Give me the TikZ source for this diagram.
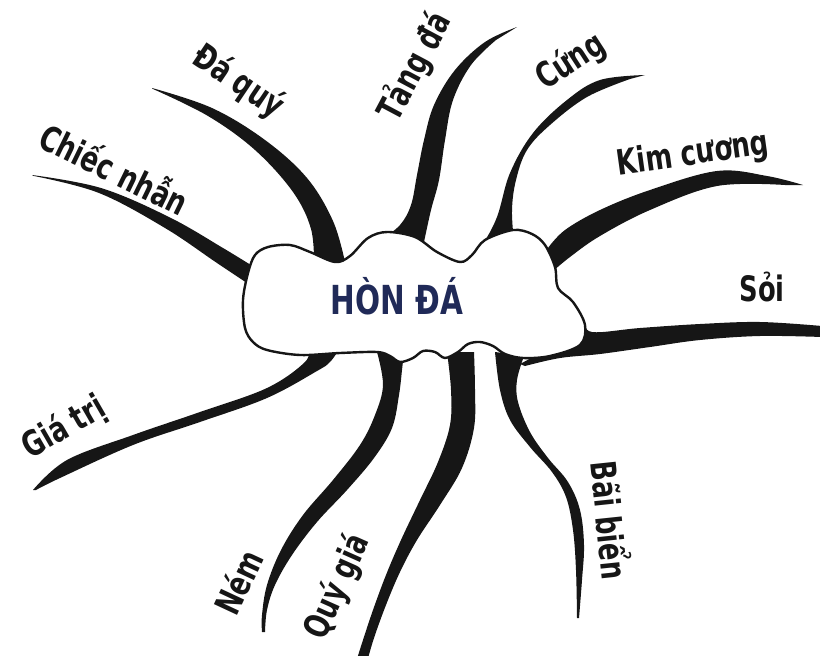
\documentclass[tikz,border=0pt]{standalone}
\usepackage{fontspec}
\setmainfont{DejaVu Sans Condensed}[FakeStretch=0.82]
\definecolor{rockink}{RGB}{22,22,22}
\definecolor{rocknavy}{RGB}{32,42,88}
\begin{document}
\begin{tikzpicture}[
  x=1pt, y=-1pt,
  rockbranch/.style = {fill=rockink},
  rockcloud/.style = {draw=rockink, line width=2.4pt, fill=white, line join=round},
  rocklbl/.style = {font=\fontsize{35}{38}\selectfont\bfseries, text=rockink, inner sep=0pt},
  rocktitle/.style = {font=\fontsize{40}{44}\selectfont\bfseries, text=rocknavy, inner sep=0pt},
  edge/.style = {smooth, tension=0.6}
]
  \useasboundingbox (0,0) rectangle (820,656);
  % nhanh: Chiec nhan
  \fill[rockbranch] plot[edge] coordinates {(32,175) (101,188) (169,217) (223,248) (262,272)}
    -- plot[edge] coordinates {(262,293) (217,263) (165,228) (99,193) (34,176)} -- cycle;
  % nhanh: Da quy
  \fill[rockbranch] plot[edge] coordinates {(152,88) (212,108) (265,140) (307,178) (333,221) (345,262)}
    -- plot[edge] coordinates {(314,265) (311,229) (293,192) (255,150) (208,116) (153,89)} -- cycle;
  % nhanh: Tang da
  \fill[rockbranch] plot[edge] coordinates {(381,240) (400,225) (411,205) (417,175) (424,140) (434,105) (455,70) (485,42) (517,27)}
    -- plot[edge] coordinates {(496,40) (471,65) (453,100) (445,140) (439,180) (431,210) (424,242)} -- cycle;
  % nhanh: Cung
  \fill[rockbranch] plot[edge] coordinates {(465,265) (482,245) (497,217) (510,173) (533,133) (567,100) (600,80) (645,75)}
    -- plot[edge] coordinates {(630,79) (587,97) (550,125) (527,150) (516,180) (512,210) (514,242)} -- cycle;
  % nhanh: Kim cuong
  \fill[rockbranch] plot[edge] coordinates {(548,248) (565,230) (600,210) (650,190) (717,171) (767,176) (803,185)}
    -- plot[edge] coordinates {(785,185) (717,186) (650,210) (600,236) (570,257) (552,272)} -- cycle;
  % nhanh: Soi
  \fill[rockbranch] plot[edge] coordinates {(520,364) (545,350) (570,332) (582,320) (592,332) (640,328) (700,324) (760,322) (822,326)}
    -- plot[edge] coordinates {(822,337) (760,336) (700,340) (650,347) (600,354) (560,358) (525,366)} -- cycle;
  % nhanh: Gia tri
  \fill[rockbranch] plot[edge] coordinates {(33,490) (67,460) (133,435) (200,412) (267,388) (305,362) (308,348)}
    -- plot[edge] coordinates {(340,348) (330,362) (317,371) (267,398) (200,422) (133,445) (60,478) (36,490)} -- cycle;
  % nhanh: Nem
  \fill[rockbranch] plot[edge] coordinates {(377,352) (383,385) (375,415) (360,445) (333,480) (303,515) (281,550) (267,585) (262,615) (262,632)}
    -- plot[edge] coordinates {(265,632) (267,610) (275,585) (292,555) (317,522) (347,490) (374,458) (392,428) (399,395) (402,370) (404,352)} -- cycle;
  % nhanh: Quy gia
  \fill[rockbranch] plot[edge] coordinates {(447,352) (451,390) (450,425) (438,462) (420,500) (401,540) (386,575) (373,610) (363,640) (356,662)}
    -- plot[edge] coordinates {(367,662) (374,638) (386,605) (400,572) (417,540) (440,505) (462,468) (474,428) (475,390) (474,352)} -- cycle;
  % nhanh: Bai bien
  \fill[rockbranch] plot[edge] coordinates {(495,352) (500,390) (510,420) (530,447) (552,472) (566,497) (573,530) (576,570) (577,618)}
    -- plot[edge] coordinates {(579,618) (582,580) (584,545) (580,510) (568,482) (548,458) (530,432) (518,402) (517,380) (524,356)} -- cycle;
  % dam may o giua
  \draw[rockcloud] plot[smooth cycle, tension=0.55] coordinates {
    (248,273) (255,255) (268,247) (290,245) (310,252) (335,262) (350,256) (368,238)
    (387,232) (415,237) (437,252) (460,262) (472,255) (485,240) (513,230) (532,234)
    (545,245) (555,267) (558,288) (573,302) (585,325) (580,345) (550,356) (523,358)
    (505,354) (493,346) (480,342) (468,344) (458,352) (445,358) (435,352) (423,351)
    (413,358) (400,362) (390,356) (377,352) (340,353) (300,355) (267,350) (253,342)
    (245,328) (243,300)};
  \node[rocktitle] (hon) at (397,296) {HÒN ĐÁ};
  % nhan
  \node[rocklbl, rotate=-26] (nhan) at (115,168) {Chiếc nhẫn};
  \node[rocklbl, rotate=-34] (daquy) at (238,82) {Đá quý};
  \node[rocklbl, rotate=62] (tang) at (415,67) {Tảng đá};
  \node[rocklbl, rotate=33] (cung) at (571,62) {Cứng};
  \node[rocklbl, rotate=8] (kim) at (693,155) {Kim cương};
  \node[rocklbl] (soi) at (762,287) {Sỏi};
  \node[rocklbl, rotate=30] (gia) at (64,428) {Giá trị};
  \node[rocklbl, rotate=65] (nem) at (238,582) {Ném};
  \node[rocklbl, rotate=66] (quy) at (338,587) {Quý giá};
  \node[rocklbl, rotate=-84] (bai) at (612,520) {Bãi biển};
\end{tikzpicture}
\end{document}
